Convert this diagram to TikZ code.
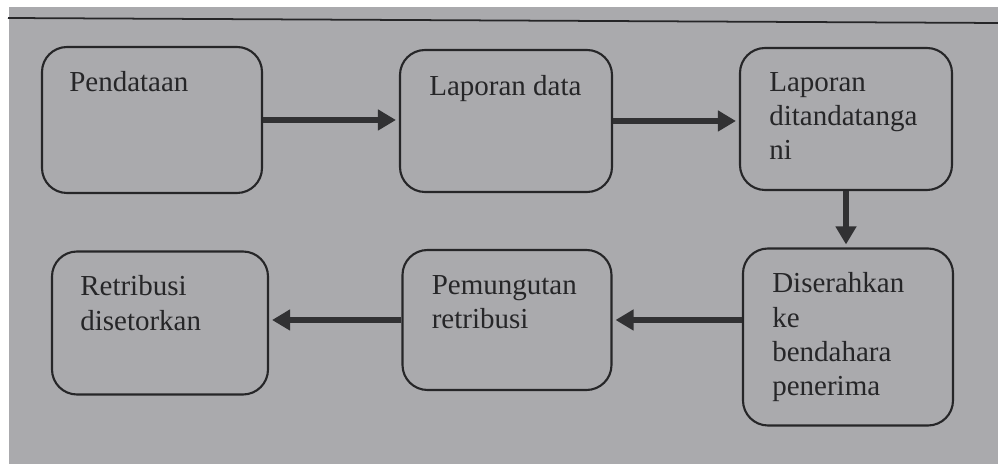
\documentclass[tikz,border=0pt]{standalone}
\usepackage{fontspec}
\setmainfont{Liberation Serif}
\usetikzlibrary{arrows.meta}
\definecolor{paper}{RGB}{170,170,173}
\definecolor{ink}{RGB}{38,38,40}
\begin{document}
\begin{tikzpicture}[
    box/.style={rectangle, draw=ink, line width=1.2pt, rounded corners=0.5cm, inner sep=0pt},
    txt/.style={anchor=north west, inner sep=0pt, align=left, text=ink, font=\fontsize{16.5}{19.5}\selectfont},
    arrow/.style={-{Triangle[length=0.36cm, width=0.4cm]}, line width=3.2pt, draw=ink!95, shorten >=0.06cm}
]
    % page
    \fill[white] (0,0) rectangle (19.96,-9.28);
    \fill[paper] (0.18,-0.14) rectangle (19.96,-9.28);
    \useasboundingbox (0,0) rectangle (19.96,-9.28);
    \draw[ink, line width=1pt] (0.16,-0.36) -- (19.96,-0.46);

    \node[box, minimum width=4.40cm, minimum height=2.92cm] (pend) at (3.04,-2.40) {};
    \node[box, minimum width=4.24cm, minimum height=2.84cm] (lapd) at (10.12,-2.42) {};
    \node[box, minimum width=4.24cm, minimum height=2.84cm] (ttd) at (16.92,-2.38) {};
    \node[box, minimum width=4.20cm, minimum height=3.54cm] (diser) at (16.96,-6.74) {};
    \node[box, minimum width=4.18cm, minimum height=2.80cm] (pemu) at (10.14,-6.40) {};
    \node[box, minimum width=4.32cm, minimum height=2.86cm] (retr) at (3.20,-6.46) {};

    \node[txt] (pendT) at ([shift={(0.56,-0.50)}]pend.north west) {Pendataan};
    \node[txt] (lapdT) at ([shift={(0.60,-0.52)}]lapd.north west) {Laporan data};
    \node[txt] (ttdT) at ([shift={(0.60,-0.50)}]ttd.north west) {Laporan\\ditandatanga\\ni};
    \node[txt] (diserT) at ([shift={(0.60,-0.50)}]diser.north west) {Diserahkan\\ke\\bendahara\\penerima};
    \node[txt] (pemuT) at ([shift={(0.60,-0.52)}]pemu.north west) {Pemungutan\\retribusi};
    \node[txt] (retrT) at ([shift={(0.58,-0.50)}]retr.north west) {Retribusi\\disetorkan};

    \draw[arrow] (pend) -- (pend -| lapd.west);
    \draw[arrow] (lapd) -- (lapd -| ttd.west);
    \draw[arrow] (ttd) -- (ttd |- diser.north);
    \draw[arrow] (diser.west |- pemu) -- (pemu -| pemu.east);
    \draw[arrow] (pemu) -- (pemu -| retr.east);
\end{tikzpicture}
\end{document}
